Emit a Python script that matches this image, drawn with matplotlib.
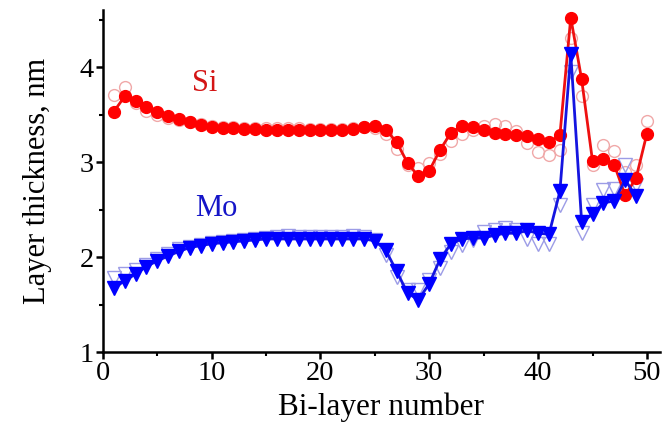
import matplotlib
matplotlib.use("Agg")
import matplotlib.pyplot as plt
from matplotlib.ticker import MultipleLocator

plt.rcParams['font.family'] = ['Liberation Serif', 'DejaVu Serif']

layers = list(range(1, 51))

si_filled = [3.53, 3.69, 3.64, 3.58, 3.53, 3.48, 3.45, 3.42, 3.39, 3.37,
             3.36, 3.36, 3.35, 3.35, 3.34, 3.34, 3.34, 3.34, 3.34, 3.34,
             3.34, 3.34, 3.35, 3.37, 3.38, 3.34, 3.21, 2.99, 2.85, 2.91,
             3.13, 3.31, 3.38, 3.37, 3.34, 3.31, 3.29, 3.28, 3.27, 3.24,
             3.21, 3.28, 4.52, 3.87, 3.01, 3.03, 2.97, 2.65, 2.83, 3.30]

si_open = [3.71, 3.79, 3.62, 3.54, 3.49, 3.46, 3.44, 3.42, 3.40, 3.38,
           3.37, 3.37, 3.36, 3.36, 3.36, 3.36, 3.36, 3.36, 3.35, 3.35,
           3.35, 3.35, 3.36, 3.37, 3.36, 3.30, 3.14, 2.97, 2.94, 2.99,
           3.08, 3.22, 3.30, 3.34, 3.38, 3.40, 3.38, 3.33, 3.20, 3.11,
           3.07, 3.13, 4.31, 3.69, 2.97, 3.18, 3.12, 2.90, 2.97, 3.43]

mo_filled = [1.67, 1.75, 1.82, 1.90, 1.96, 2.01, 2.06, 2.10, 2.12, 2.14,
             2.15, 2.16, 2.17, 2.18, 2.19, 2.19, 2.19, 2.19, 2.19, 2.19,
             2.19, 2.19, 2.19, 2.19, 2.17, 2.07, 1.85, 1.62, 1.55, 1.72,
             1.98, 2.14, 2.19, 2.20, 2.20, 2.23, 2.25, 2.25, 2.28, 2.25,
             2.24, 2.69, 4.14, 2.37, 2.45, 2.57, 2.59, 2.81, 2.64]

mo_open = [1.78, 1.82, 1.86, 1.92, 1.98, 2.03, 2.08, 2.11, 2.13, 2.15,
           2.16, 2.17, 2.18, 2.19, 2.20, 2.21, 2.22, 2.21, 2.21, 2.21,
           2.21, 2.21, 2.22, 2.21, 2.18, 2.02, 1.79, 1.65, 1.65, 1.76,
           1.88, 2.05, 2.13, 2.18, 2.26, 2.28, 2.31, 2.28, 2.19, 2.14,
           2.14, 2.55, 3.95, 2.25, 2.55, 2.71, 2.72, 2.97, 2.76]

fig = plt.figure(figsize=(6.68, 4.37), dpi=100)
ax = fig.add_axes([0.154, 0.1945, 0.834, 0.7825])

ax.plot(layers, si_open, linestyle='none', marker='o', markersize=8.5,
        markerfacecolor='none', markeredgecolor='#F0A8A8', markeredgewidth=1.0, zorder=2)
ax.plot(layers[:len(mo_open)], mo_open, linestyle='none', marker='v', markersize=9.5,
        markerfacecolor='none', markeredgecolor='#9C9CE6', markeredgewidth=1.0, zorder=2)
ax.plot(layers, si_filled, color='#EE1010', linewidth=2.0, marker='o', markersize=8.5,
        markerfacecolor='#FF0000', markeredgecolor='#FF0000', zorder=3)
ax.plot(layers[:len(mo_filled)], mo_filled, color='#1515E0', linewidth=2.0, marker='v', markersize=9.5,
        markerfacecolor='#0000FF', markeredgecolor='#0000FF', zorder=4)

ax.text(9.4, 3.83, 'Si', color='#D41515', fontsize=22, ha='center', va='center')
ax.text(10.4, 2.51, 'Mo', color='#1515C8', fontsize=22, ha='center', va='center')

ax.set_xlim(0, 51.2)
ax.set_ylim(1, 4.6)
ax.xaxis.set_major_locator(MultipleLocator(10))
ax.xaxis.set_minor_locator(MultipleLocator(5))
ax.set_yticks([1, 2, 3, 4])
ax.yaxis.set_minor_locator(MultipleLocator(0.5))

for s in ['top', 'right']:
    ax.spines[s].set_visible(False)
for s in ['left', 'bottom']:
    ax.spines[s].set_linewidth(1.8)

ax.tick_params(which='major', direction='out', length=5, width=1.8, labelsize=20.5, pad=1.5)
ax.tick_params(which='minor', direction='out', length=3, width=1.5)

ax.set_xlabel('Bi-layer number', fontsize=22.5, labelpad=5)
ax.set_ylabel('Layer thickness, nm', fontsize=22, labelpad=20)

fig.savefig('out.png', dpi=100)
